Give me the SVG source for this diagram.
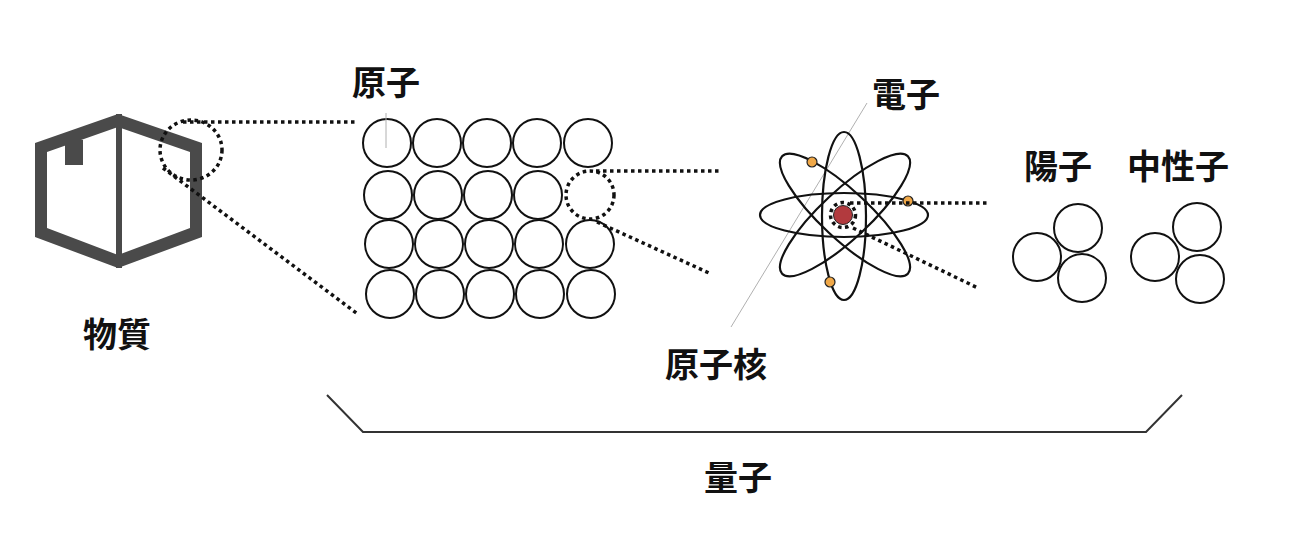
<svg xmlns="http://www.w3.org/2000/svg" width="1298" height="558" viewBox="0 0 1298 558">
<style>
.lbl{font-family:"Noto Sans CJK JP","Noto Sans CJK SC",sans-serif;font-weight:700;font-size:34px;fill:#111;text-anchor:middle}
.dot{fill:none;stroke:#111;stroke-width:3.5;stroke-dasharray:3.5 3.5}
.c{fill:none;stroke:#111;stroke-width:2}
.orb{fill:none;stroke:#111;stroke-width:2.2}
.el{fill:#f0a848;stroke:#222;stroke-width:1.2}
.lead{fill:none;stroke:#b0b0b0;stroke-width:1}
</style>
<rect width="1298" height="558" fill="#fff"/>

<g id="matter">
  <path fill="#4a4a4a" fill-rule="evenodd" d="M118,114 L202,143 L202,237 L118,268 L35,237 L35,143 Z M118,127 L190,152 L190,228 L118,255 L47,228 L47,152 Z"/>
  <rect x="116" y="114" width="6" height="154" fill="#4a4a4a"/>
  <rect x="65" y="140" width="18" height="25" fill="#4a4a4a"/>
  <text class="lbl" x="117" y="347">物質</text>
</g>

<g id="atoms">
  <g>
    <circle class="c" cx="387" cy="143" r="24"/><circle class="c" cx="437" cy="143" r="24"/><circle class="c" cx="487" cy="143" r="24"/><circle class="c" cx="537" cy="143" r="24"/><circle class="c" cx="588" cy="143" r="24"/>
    <circle class="c" cx="388" cy="195" r="24"/><circle class="c" cx="438" cy="195" r="24"/><circle class="c" cx="488" cy="195" r="24"/><circle class="c" cx="538" cy="195" r="24"/>
    <circle class="c" cx="389" cy="244" r="24"/><circle class="c" cx="439" cy="244" r="24"/><circle class="c" cx="489" cy="244" r="24"/><circle class="c" cx="539" cy="244" r="24"/><circle class="c" cx="590" cy="244" r="24"/>
    <circle class="c" cx="390" cy="294" r="24"/><circle class="c" cx="440" cy="294" r="24"/><circle class="c" cx="490" cy="294" r="24"/><circle class="c" cx="540" cy="294" r="24"/><circle class="c" cx="591" cy="294" r="24"/>
  </g>
  <line class="lead" x1="386" y1="113" x2="386" y2="148"/>
  <text class="lbl" x="386" y="95">原子</text>
</g>

<g id="atom-model">
  <line class="lead" x1="867" y1="103" x2="731" y2="327"/>
  <ellipse class="orb" cx="844" cy="215" rx="84" ry="22"/>
  <ellipse class="orb" cx="844" cy="216" rx="22" ry="84"/>
  <ellipse class="orb" cx="845" cy="215" rx="86" ry="24" transform="rotate(43 845 215)"/>
  <ellipse class="orb" cx="845" cy="215" rx="86" ry="24" transform="rotate(-43 845 215)"/>
  <circle cx="843" cy="215" r="9.5" fill="#b23a3e" stroke="#222" stroke-width="1"/>
  <circle class="el" cx="812" cy="162" r="5"/>
  <circle class="el" cx="908" cy="201" r="5"/>
  <circle class="el" cx="830" cy="282" r="5"/>
  <text class="lbl" x="906" y="107">電子</text>
  <text class="lbl" x="716" y="377">原子核</text>
</g>

<g id="proton">
  <circle class="c" cx="1078" cy="228" r="24"/>
  <circle class="c" cx="1037" cy="257" r="24"/>
  <circle class="c" cx="1082" cy="278" r="24"/>
  <text class="lbl" x="1058" y="179">陽子</text>
</g>

<g id="neutron">
  <circle class="c" cx="1197" cy="227" r="24"/>
  <circle class="c" cx="1155" cy="257" r="24"/>
  <circle class="c" cx="1200" cy="279" r="24"/>
  <text class="lbl" x="1178" y="179">中性子</text>
</g>

<g id="quantum">
  <polyline fill="none" stroke="#333" stroke-width="2" points="327,395 363,432 1146,432 1182,395"/>
  <text class="lbl" x="738" y="490">量子</text>
</g>

<g id="connectors">
  <ellipse class="dot" cx="191" cy="150" rx="31" ry="30"/>
  <line class="dot" x1="183" y1="122" x2="356" y2="122"/>
  <line class="dot" x1="163" y1="168" x2="359" y2="315"/>
  <circle class="dot" cx="590" cy="195" r="24"/>
  <line class="dot" x1="596" y1="171" x2="720" y2="171"/>
  <line class="dot" x1="597" y1="222" x2="709" y2="273"/>
  <circle class="dot" cx="843" cy="215" r="12.5"/>
  <line class="dot" x1="850" y1="203" x2="987" y2="203"/>
  <line class="dot" x1="853" y1="228" x2="978" y2="288"/>
</g>
</svg>
